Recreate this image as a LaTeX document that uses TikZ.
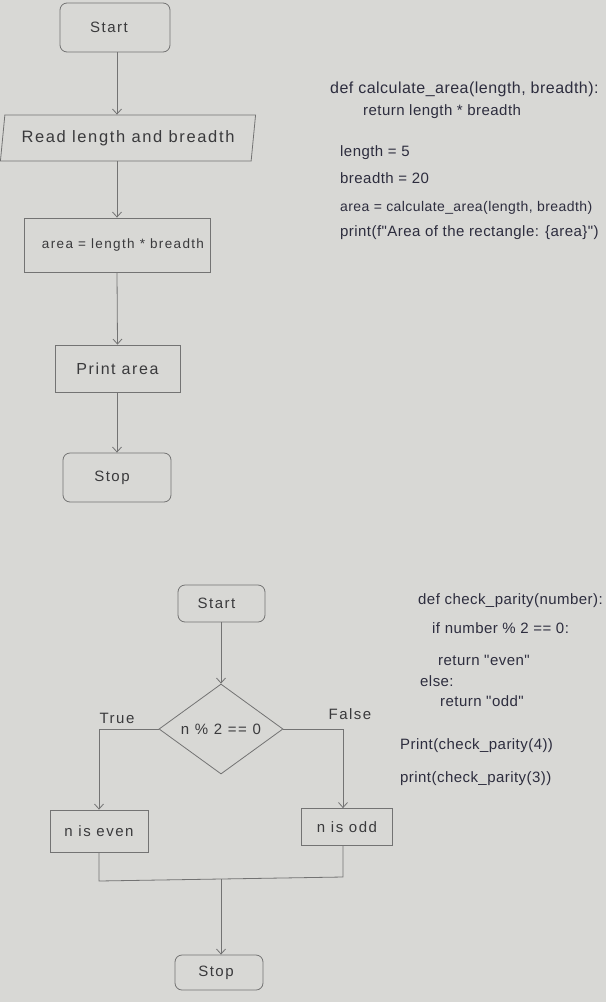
\documentclass[tikz,border=0pt]{standalone}
\usepackage{fontspec}
\setmainfont{Liberation Sans}
\newfontfamily\handf[LetterSpace=10]{Liberation Sans}
\newfontfamily\codef[LetterSpace=3]{Liberation Sans}
\usetikzlibrary{arrows.meta,shapes.geometric}
\definecolor{paper}{RGB}{216,216,213}
\definecolor{ink}{RGB}{58,58,60}
\definecolor{pen}{RGB}{45,45,62}
\definecolor{edge}{RGB}{115,115,115}
\tikzset{
  ln/.style={draw=edge, line width=0.8pt},
  arr/.style={ln, -{Straight Barb[length=5pt,width=9pt]}},
  term/.style={ln, rounded corners=7pt, text=ink, font=\handf\fontsize{15}{17}\selectfont, inner sep=0pt},
  proc/.style={ln, text=ink, font=\handf\fontsize{15}{17}\selectfont, inner sep=0pt},
  codeA/.style={anchor=west, text=pen, font=\codef\fontsize{15}{17}\selectfont, inner sep=0pt},
  lbl/.style={text=ink, font=\handf\fontsize{15}{17}\selectfont, inner sep=0pt}
}
\begin{document}
\begin{tikzpicture}[x=1pt,y=-1pt]
\fill[paper] (0,0) rectangle (606,1002);
\useasboundingbox (0,0) rectangle (606,1002);
% first flowchart
\node[term, minimum width=110, minimum height=49] (s1) at (115,27.5) {\kern-12pt Start};
\node[proc, trapezium, trapezium left angle=76, trapezium right angle=104, trapezium stretches=true, minimum width=256, minimum height=46, font=\handf\fontsize{16.5}{18}\selectfont] (read) at (128,138) {Read length and breadth};
\node[proc, minimum width=186, minimum height=54, font=\handf\fontsize{13.5}{16}\selectfont] (calc) at (117,245) {\kern12pt area = length * breadth};
\node[proc, minimum width=125, minimum height=47, font=\handf\fontsize{16}{18}\selectfont] (pr) at (117.5,368.5) {Print area};
\node[term, minimum width=108, minimum height=49] (e1) at (117,477.5) {\kern-10pt Stop};
\draw[arr] (s1.south -| e1.north) -- (e1.north |- read.north);
\draw[arr] (read.south -| calc.north) -- (calc.north);
\draw[arr] (calc.south) -- (pr.north);
\draw[arr] (pr.south -| e1.north) -- (e1.north);
% code 1
\node[codeA, font=\codef\fontsize{16}{18}\selectfont] (c1) at (330,89) {def calculate\_area(length, breadth):};
\node[codeA] (c2) at (363,112) {return length * breadth};
\node[codeA] (c3) at (340,153) {length = 5};
\node[codeA] (c4) at (340,178) {breadth = 20};
\node[codeA, font=\codef\fontsize{14}{16}\selectfont] (c5) at (340,208) {area = calculate\_area(length, breadth)};
\node[codeA] (c6) at (340,233) {print(f"Area of the rectangle: \{area\}")};
% second flowchart
\node[term, minimum width=87, minimum height=37] (s2) at (221.5,603.5) {\kern-10pt Start};
\node[proc, diamond, aspect=1.37, minimum width=124, minimum height=90] (dia) at (221,729) {n \% 2 == 0};
\node[proc, minimum width=98, minimum height=42] (even) at (99,831) {n is even};
\node[proc, minimum width=91, minimum height=37] (odd) at (347,827) {n is odd};
\node[term, minimum width=88, minimum height=35] (e2) at (219,972.5) {\kern-6pt Stop};
\node[lbl] (tl) at (117,718) {True};
\node[lbl] (fl) at (350,714) {False};
\coordinate (jl) at (99,881);
\coordinate (jr) at (343,877);
\coordinate (jm) at (221,879);
\draw[arr] (s2.south -| dia.north) -- (dia.north);
\draw[arr] (dia.west) -| (even.north);
\draw[arr] (dia.east) -| (jr |- odd.north);
\draw[ln] (even.south) -- (jl) -- (jr) -- (jr |- odd.south);
\draw[arr] (jm) -- (jm |- e2.north);
% code 2
\node[codeA] (d1) at (418,601) {def check\_parity(number):};
\node[codeA] (d2) at (432,628) {if number \% 2 == 0:};
\node[codeA] (d3) at (438,660) {return "even"};
\node[codeA] (d4) at (420,681) {else:};
\node[codeA] (d5) at (440,701) {return "odd"};
\node[codeA] (d6) at (400,746) {Print(check\_parity(4))};
\node[codeA] (d7) at (400,779) {print(check\_parity(3))};
\end{tikzpicture}
\end{document}
